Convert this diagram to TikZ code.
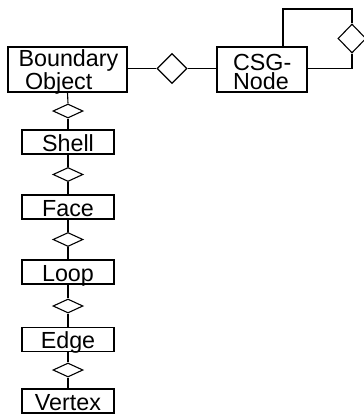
\documentclass[tikz,border=0pt]{standalone}
\usepackage{fontspec}
\setmainfont{Liberation Sans}
\usetikzlibrary{shapes.geometric}
\begin{document}
\begin{tikzpicture}[x=1pt, y=-1pt, line width=1.1pt,
  box/.style={draw, rectangle, inner sep=0pt},
  txt/.style={inner sep=0pt, font=\fontsize{23.3}{19}\selectfont},
  cls/.style={box, txt, minimum width=92pt, text height=21pt, text depth=3pt},
  agg/.style={draw, diamond, fill=white, inner sep=0pt, aspect=1},
  vagg/.style={agg, minimum width=30pt, minimum height=14pt}]
\useasboundingbox (0,0) rectangle (364,416);

% Boundary object and CSG node (two-line labels, anchored on the last baseline)
\node[box, minimum width=119pt, minimum height=45pt] (bo) at (67.5,69.5) {};
\node[txt, anchor=base west, align=left] (bot) at (18,89) {Boundary\\\ Object};
\node[box, minimum width=90pt, minimum height=45pt] (cg) at (262,69.5) {};
\node[txt, anchor=base west, align=left] (cgt) at (232.5,89) {CSG-\\Node};

% aggregation between boundary object and CSG node
\node[agg, minimum width=30pt, minimum height=30pt] (d0) at (172,68.5) {};
\draw (bo.east |- d0.west) -- (d0.west);
\draw (d0.east) -- (cg.west |- d0.east);

% recursive aggregation of CSG nodes
\coordinate (lt) at (283,9);
\coordinate (rt) at (352,9);
\node[agg, minimum width=28pt, minimum height=29pt] (sd) at (352,38.5) {};
\draw (lt |- cg.north) -- (lt) -- (rt) -- (sd.north);
\draw (sd.south) |- (cg.east |- d0.east);

% topology chain
\node[cls] (shell)  at (68,142)   {Shell};
\node[cls] (face)   at (68,207)   {Face};
\node[cls] (loop)   at (68,272)   {Loop};
\node[cls] (edge)   at (68,339.5) {Edge};
\node[cls] (vertex) at (68,401)   {Vertex};

\node[vagg] (d1) at (68,111)   {};
\node[vagg] (d2) at (68,174.5) {};
\node[vagg] (d3) at (68,239.5) {};
\node[vagg] (d4) at (68,306)   {};
\node[vagg] (d5) at (68,370)   {};

\foreach \a/\d/\b in {bo/d1/shell, shell/d2/face, face/d3/loop, loop/d4/edge, edge/d5/vertex} {
  \draw (\a.south) -- (\d.north);
  \draw (\d.south) -- (\b.north);
}
\end{tikzpicture}
\end{document}
